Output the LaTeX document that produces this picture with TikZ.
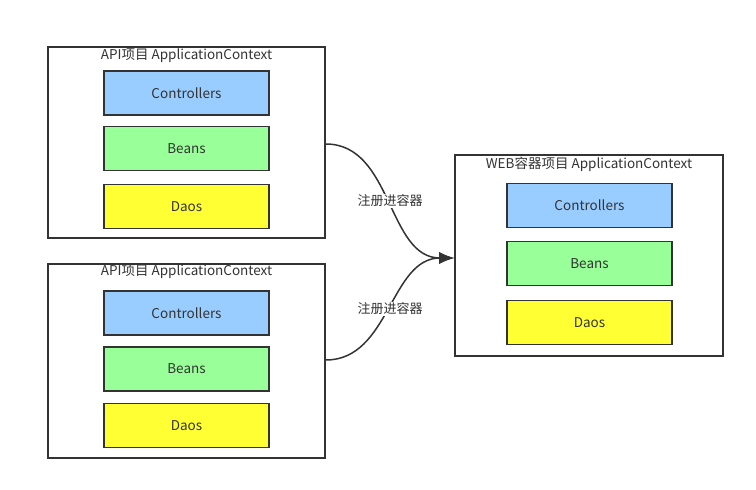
\documentclass[tikz,border=0pt]{standalone}
\usepackage{fontspec}
\setmainfont{Noto Sans CJK SC}
\usetikzlibrary{calc,positioning,arrows.meta}
\definecolor{ctrlblue}{HTML}{99CCFF}
\definecolor{beangreen}{HTML}{99FF99}
\definecolor{daoyellow}{HTML}{FFFF33}
\definecolor{linegray}{HTML}{333333}
\tikzstyle{ctx} = [draw=linegray, line width=1.6pt, fill=white, rectangle]
\tikzstyle{block} = [draw=linegray, line width=1.6pt, rectangle,
    minimum height=44pt, minimum width=165pt]
\tikzstyle{title} = [anchor=center, inner sep=0pt]
\tikzstyle{register} = [draw=linegray, line width=1.5pt,
    -{Latex[length=15pt,width=12pt]}]

\begin{document}
\begin{tikzpicture}[x=1pt,y=-1pt,font=\fontsize{13.5}{15}\selectfont,
    text=linegray]
\useasboundingbox (0,0) rectangle (756,490);

% API project 1
\node (api1) [ctx,minimum width=277pt,minimum height=191pt] at (186.5,142.5) {};
\node (api1title) [title] at (186.5,56) {API项目 ApplicationContext};
\node (api1ctrl) [block,fill=ctrlblue] at (186.5,93) {Controllers};
\node (api1bean) [block,fill=beangreen] at (186.5,148.5) {Beans};
\node (api1dao) [block,fill=daoyellow] at (186.5,206.5) {Daos};

% API project 2
\node (api2) [ctx,minimum width=277pt,minimum height=194pt] at (186.5,361) {};
\node (api2title) [title] at (186.5,272) {API项目 ApplicationContext};
\node (api2ctrl) [block,fill=ctrlblue] at (186.5,313) {Controllers};
\node (api2bean) [block,fill=beangreen] at (186.5,369) {Beans};
\node (api2dao) [block,fill=daoyellow] at (186.5,425.5) {Daos};

% WEB container
\node (web) [ctx,minimum width=268pt,minimum height=201pt] at (589,255.5) {};
\node (webtitle) [title] at (589,164) {WEB容器项目 ApplicationContext};
\node (webctrl) [block,fill=ctrlblue] at (589.5,205.5) {Controllers};
\node (webbean) [block,fill=beangreen] at (589.5,263.5) {Beans};
\node (webdao) [block,fill=daoyellow] at (589.5,322.5) {Daos};

\coordinate (api1out) at ($(api1.east)+(0,1.5)$);
\coordinate (api2out) at ($(api2.east)+(0,-1)$);
\coordinate (webin) at ($(web.west)+(0,2.5)$);

\draw[register] (api1out) to[out=0,in=180]
    node[fill=white,inner sep=1pt,font=\fontsize{13}{15}\selectfont] {注册进容器} (webin);
\draw[register] (api2out) to[out=0,in=180]
    node[fill=white,inner sep=1pt,font=\fontsize{13}{15}\selectfont] {注册进容器} (webin);

\end{tikzpicture}
\end{document}
